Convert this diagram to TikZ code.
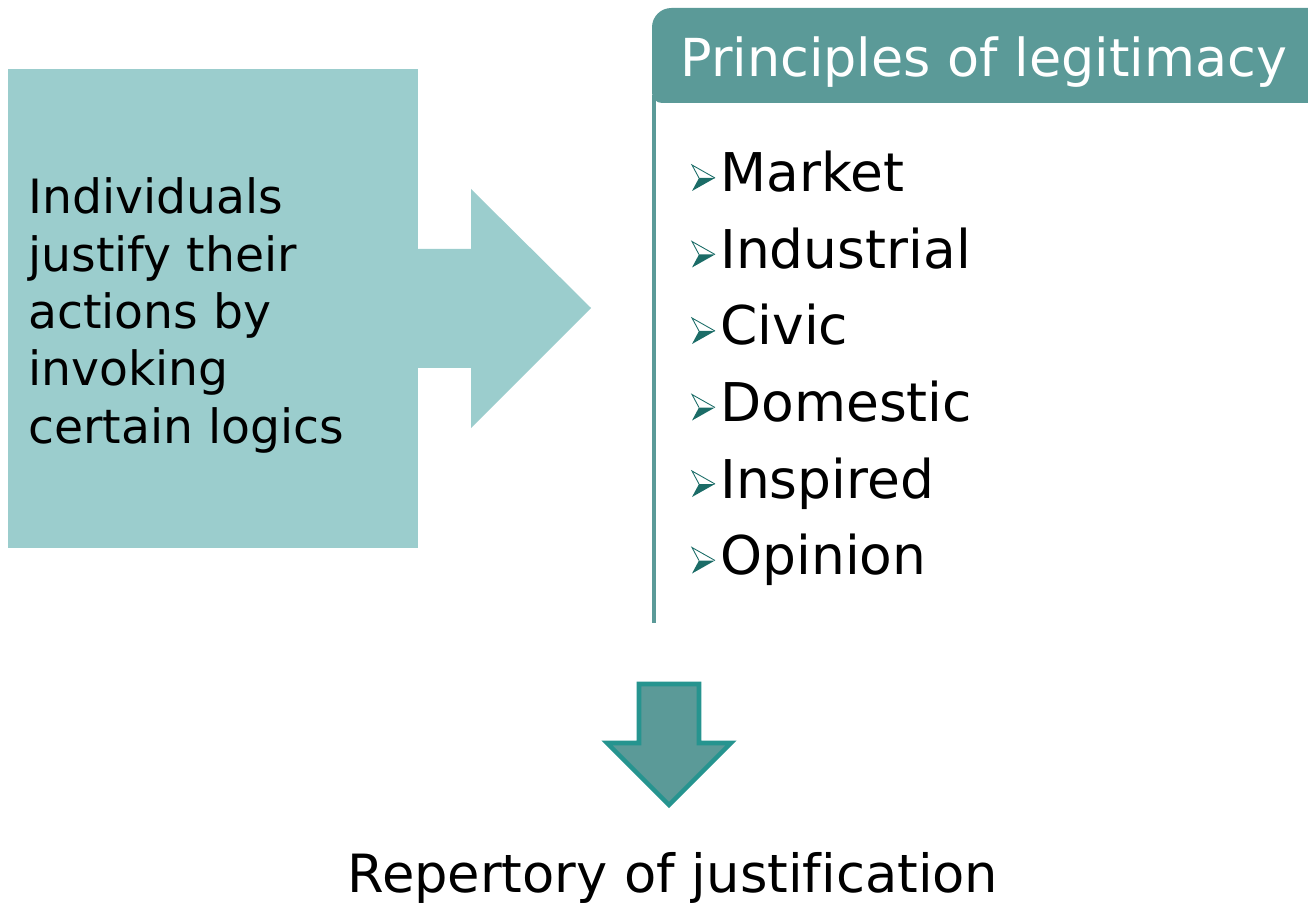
\documentclass[tikz,border=0pt]{standalone}
\usepackage{fontspec}
\setmainfont[Ligatures=NoCommon]{DejaVu Sans}
\usepackage{tikz}
\usepackage[dvipsnames]{xcolor}
\definecolor{paleteal}{HTML}{9BCDCD}
\definecolor{headteal}{HTML}{5B9A98}
\definecolor{rimteal}{HTML}{26948F}
\definecolor{darkteal}{HTML}{1B6C67}
\tikzset{
    item/.style={anchor=base west,inner sep=0pt,font=\fontsize{30.4}{36}\selectfont},
    legbullet/.pic={
        \fill[darkteal] (7,0) -- (23,0) -- (0,13) -- cycle;
        \draw[darkteal,line width=0.5pt,line join=miter] (7,0) -- (0,-13) -- (23,0);
    }
}

\begin{document}
\begin{tikzpicture}[x=0.02cm,y=-0.02cm]
    \useasboundingbox (0,0) rectangle (1308,905);
    \fill[paleteal] (8,69) rectangle (418,548);
    \fill[paleteal] (418,249) -- (471,249) -- (471,189) -- (591,308) -- (471,428) -- (471,368) -- (418,368) -- cycle;
    \node[anchor=base west,inner sep=0pt,align=left,font=\fontsize{26.9}{32.6}\selectfont] (why) at (28,443)
        {Individuals\\justify their\\actions by\\invoking\\certain logics};
    \fill[headteal] (1308,103) [rounded corners=5.7pt] -- (652,103) [rounded corners=11pt] -- (652,8) [sharp corners] -- (1308,8) -- cycle;
    \node[anchor=base west,inner sep=0pt,text=white,font=\fontsize{29.8}{36}\selectfont] (head) at (680,77) {Principles of legitimacy};
    \draw[headteal,line width=2.3pt] (654,95) -- (654,623);
    \foreach \name [count=\i] in {Market,Industrial,Civic,Domestic,Inspired,Opinion} {
        \node[item] (p\i) at (720,192+76.5*\i-76.5) {\name};
        \pic at (692,178+76.5*\i-76.5) {legbullet};
    }
    \draw[rimteal,fill=headteal,line width=2.6pt,line join=miter] (639,684) -- (699,684) -- (699,743) -- (731,743) -- (669,805) -- (607,743) -- (639,743) -- cycle;
    \node[anchor=base,inner sep=0pt,font=\fontsize{30}{36}\selectfont] (rep) at (673,892) {Repertory of justification};
\end{tikzpicture}
\end{document}
